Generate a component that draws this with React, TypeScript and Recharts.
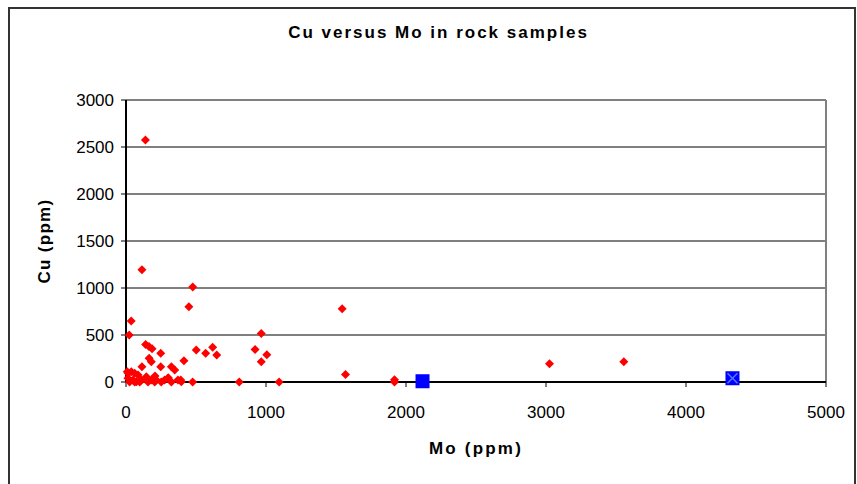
import { ScatterChart, Scatter, XAxis, YAxis, CartesianGrid, ReferenceLine, Label } from 'recharts'

// Mo (ppm), Cu (ppm) pairs
const redSamples: [number, number][] = [
  [139, 2575], [114, 1195], [477, 1010], [449, 800], [37, 650], [23, 500],
  [966, 515], [922, 345], [1006, 290], [966, 215], [1094, 0], [809, 0],
  [502, 340], [569, 305], [619, 369], [648, 287], [476, 0], [414, 227],
  [140, 400], [164, 378], [186, 355], [248, 305], [165, 252], [181, 216],
  [248, 163], [114, 163], [324, 163], [348, 128], [391, 21], [302, 46], [207, 64],
  [1544, 780], [1568, 80], [1918, 25], [1918, 0], [3025, 195], [3556, 215],
  [9, 110], [38, 110], [62, 92], [86, 74], [14, 39], [50, 21], [74, 3],
  [109, 21], [145, 56], [181, 21], [216, 21], [276, 21], [300, 39], [371, 21],
  [395, 3], [26, 0], [62, 0], [98, 0], [157, 0], [205, 0], [252, 0], [324, 0], [16, 92],
]
const blueSamples: [number, number][] = [
  [2118, 8], [4332, 40],
]
const crossedSamples: [number, number][] = [
  [4332, 40],
]

const xTicks = [0, 1000, 2000, 3000, 4000, 5000]
const yTicks = [0, 500, 1000, 1500, 2000, 2500, 3000]

const toPoints = (rows: [number, number][]) => rows.map(([mo, cu]) => ({ mo, cu }))

const FONT = '"Liberation Sans", Arial, sans-serif'

const Diamond = (props: any) => {
  const { cx, cy } = props
  const r = 4.5
  return <polygon points={`${cx},${cy - r} ${cx + r},${cy} ${cx},${cy + r} ${cx - r},${cy}`} fill="#FF0000" />
}

const Square = (props: any) => {
  const { cx, cy } = props
  return <rect x={cx - 7} y={cy - 7} width={14} height={14} fill="#0000FF" />
}

const Cross = (props: any) => {
  const { cx, cy } = props
  return (
    <g stroke="#5577FF" strokeWidth={1.5}>
      <line x1={cx - 5} y1={cy - 5} x2={cx + 5} y2={cy + 5} />
      <line x1={cx - 5} y1={cy + 5} x2={cx + 5} y2={cy - 5} />
    </g>
  )
}

export default function App() {
  const tickStyle = { fontSize: 17, fill: '#000', fontFamily: FONT }
  return (
    <div style={{ position: 'absolute', left: 0, top: 0, width: 857, height: 484, background: '#fff', overflow: 'hidden', fontFamily: FONT }}>
      <div style={{ position: 'absolute', left: 8, top: 7, width: 844, height: 500, border: '2px solid #333' }} />
      <div style={{ position: 'absolute', left: 0, top: 23, width: 877, textAlign: 'center', fontSize: 17, lineHeight: '20px', fontWeight: 'bold', letterSpacing: 2 }}>
        Cu versus Mo in rock samples
      </div>
      <div style={{ position: 'absolute', left: 0, top: 0 }}>
        <ScatterChart width={857} height={484} margin={{ top: 100, right: 31, bottom: 27, left: 26 }}>
          <CartesianGrid vertical={false} stroke="#000" strokeWidth={1} />
          <XAxis
            type="number"
            dataKey="mo"
            domain={[0, 5000]}
            ticks={xTicks}
            height={75}
            tick={tickStyle}
            tickSize={5}
            tickMargin={19}
            axisLine={{ stroke: '#000', strokeWidth: 2 }}
            tickLine={{ stroke: '#000' }}
          >
            <Label value="Mo (ppm)" position="insideBottom" offset={3} fontSize={17} fontWeight="bold" fill="#000" style={{ letterSpacing: 2.2, fontFamily: FONT }} />
          </XAxis>
          <YAxis
            type="number"
            dataKey="cu"
            domain={[0, 3000]}
            ticks={yTicks}
            width={100}
            tick={tickStyle}
            tickSize={5}
            tickMargin={7}
            axisLine={{ stroke: '#000', strokeWidth: 2 }}
            tickLine={{ stroke: '#000' }}
          >
            <Label
              content={({ viewBox }: any) => {
                const x = viewBox.x + 18
                const y = viewBox.y + viewBox.height / 2
                return (
                  <text x={x} y={y} transform={`rotate(-90, ${x}, ${y})`} textAnchor="middle" dominantBaseline="central"
                    fontSize={17} fontWeight="bold" fill="#000" style={{ letterSpacing: 1.3, fontFamily: FONT }}>
                    Cu (ppm)
                  </text>
                )
              }}
            />
          </YAxis>
          <ReferenceLine x={5000} stroke="#808080" strokeWidth={2} />
          <ReferenceLine y={3000} stroke="#808080" strokeWidth={2} />
          <Scatter data={toPoints(redSamples)} shape={Diamond} isAnimationActive={false} />
          <Scatter data={toPoints(blueSamples)} shape={Square} isAnimationActive={false} />
          <Scatter data={toPoints(crossedSamples)} shape={Cross} isAnimationActive={false} />
        </ScatterChart>
      </div>
    </div>
  )
}
